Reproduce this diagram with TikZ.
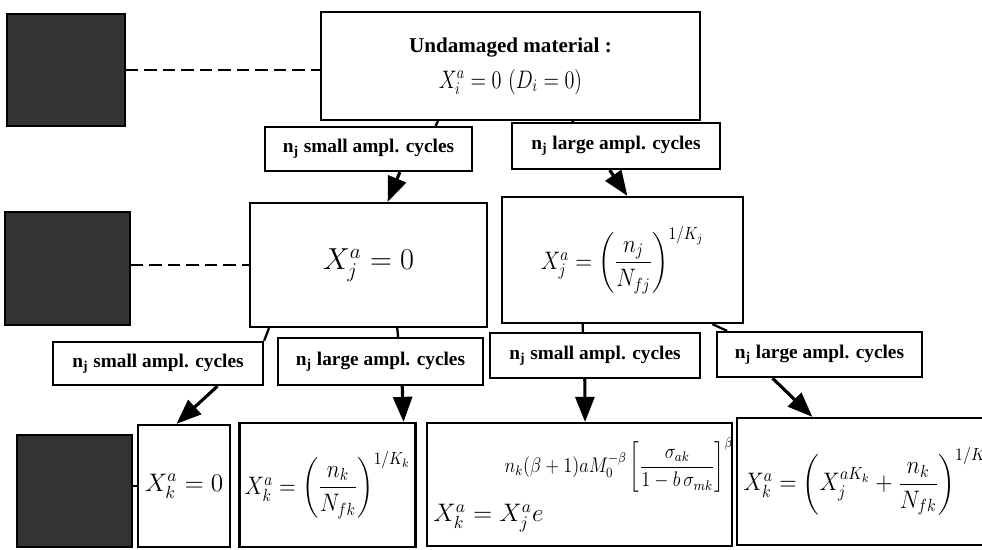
\documentclass[tikz,border=0pt]{standalone}
\usepackage{amsmath}
\usepackage{graphicx}
\usepackage{fontspec}
\setmainfont{Liberation Serif}
\usetikzlibrary{arrows.meta,calc}
\newcommand{\narrow}[2][0.87]{\scalebox{#1}[1]{#2}}

\begin{document}
\begin{tikzpicture}[x=0.02cm, y=-0.02cm, >={Triangle[length=0.5cm,width=0.38cm]},
    box/.style={draw, line width=1.3pt, inner sep=3pt},
    formula/.style={box, font=\Large},
    cyclebox/.style={box, font=\bfseries\fontsize{11}{13}\selectfont},
    greybox/.style={draw, line width=1pt, fill=black!80},
    link/.style={line width=1.3pt},
    arr/.style={line width=1.8pt, ->},
    dashlink/.style={line width=1.6pt, dash pattern=on 0.25cm off 0.12cm}]
    \clip (0,0) rectangle (982,549);

    % Grey boxes
    \node[greybox, minimum width=2.36cm, minimum height=2.24cm] (g1) at (66,70) {};
    \node[greybox, minimum width=2.5cm, minimum height=2.26cm] (g2) at (67.5,268.5) {};
    \node[greybox, minimum width=2.3cm, minimum height=2.24cm] (g3) at (74.5,491) {};

    % Undamaged state
    \node[box, minimum width=7.58cm, minimum height=2.16cm, align=center] (top) at (510.5,66)
        {{\bfseries\fontsize{12}{14}\selectfont Undamaged material :}\\[6pt]
         {\Large\narrow[0.8]{$X_i^a = 0\,\left(D_i = 0\right)$}}};

    % First block
    \node[cyclebox, minimum width=4.14cm, minimum height=0.88cm] (c1) at (368.5,149) {n\textsubscript{j} small ampl. cycles};
    \node[cyclebox, minimum width=4.16cm, minimum height=0.92cm] (c2) at (616,146) {n\textsubscript{j} large ampl. cycles};
    \node[formula, minimum width=4.74cm, minimum height=2.48cm, font=\LARGE] (xj1) at (368.5,265) {$X_j^a = 0$};
    \node[formula, minimum width=4.82cm, minimum height=2.52cm] (xj2) at (622.5,260)
        {\narrow{$X_j^a = \left(\dfrac{n_j}{N_{fj}}\right)^{1/K_j}$}};

    % Second block
    \node[cyclebox, minimum width=4.2cm, minimum height=0.86cm] (c3) at (158,363.5) {n\textsubscript{j} small ampl. cycles};
    \node[cyclebox, minimum width=4.1cm, minimum height=0.94cm] (c4) at (380.5,361.5) {n\textsubscript{j} large ampl. cycles};
    \node[cyclebox, minimum width=4.2cm, minimum height=0.9cm] (c5) at (595,355.5) {n\textsubscript{j} small ampl. cycles};
    \node[cyclebox, minimum width=4.1cm, minimum height=0.9cm] (c6) at (819.5,354.5) {n\textsubscript{j} large ampl. cycles};
    \node[formula, minimum width=1.84cm, minimum height=2.44cm] (k1) at (184,486) {$X_k^a = 0$};
    \node[formula, minimum width=3.5cm, minimum height=2.48cm] (k2) at (327.5,485)
        {\narrow{$X_k^a = \left(\dfrac{n_k}{N_{fk}}\right)^{1/K_k}$}};
    \node[formula, minimum width=6.1cm, minimum height=2.46cm, text width=5.85cm, align=left] (k3) at (579.5,484.5)
        {\mbox{$X_k^a = X_j^a e^{\kern-0.78cm\mbox{\large\narrow{\raisebox{0.8cm}{$\displaystyle n_k(\beta+1)aM_0^{-\beta}\left[\frac{\sigma_{ak}}{1-b\,\sigma_{mk}}\right]^{\beta}$}}}}$}};
    \node[formula, minimum width=5.46cm, minimum height=2.54cm, text width=5.2cm, align=left] (k4) at (873.5,481.5)
        {\narrow[0.9]{$X_k^a = \left(X_j^{aK_k} + \dfrac{n_k}{N_{fk}}\right)^{1/K_k}$}};

    % Links
    \draw[dashlink] (g1.east) -- (g1.east -| top.west);
    \draw[dashlink] (xj1.west -| g2.east) -- (xj1.west);
    \draw[link] (k1.west -| g3.east) -- (k1.west);
    \draw[link] ($(top.south west)!0.31!(top.south east)$) -- ($(c1.north west)!0.82!(c1.north east)$);
    \draw[link] ($(top.south west)!0.66!(top.south east)$) -- ($(c2.north west)!0.3!(c2.north east)$);
    \draw[arr] ($(c1.south west)!0.65!(c1.south east)$) -- ($(xj1.north west)!0.58!(xj1.north east)$);
    \draw[arr] ($(c2.south west)!0.47!(c2.south east)$) -- ($(xj2.north west)!0.52!(xj2.north east)$);
    \draw[link] ($(xj1.south west)!0.084!(xj1.south east)$) -- (c3.north east);
    \draw[link] ($(xj1.south west)!0.62!(xj1.south east)$) -- ($(c4.north west)!0.585!(c4.north east)$);
    \draw[link] ($(xj2.south west)!0.336!(xj2.south east)$) -- ($(c5.north west)!0.443!(c5.north east)$);
    \draw[link] ($(xj2.south west)!0.87!(xj2.south east)$) -- ($(c6.north west)!0.054!(c6.north east)$);
    \draw[arr] ($(c3.south west)!0.78!(c3.south east)$) -- ($(k1.north west)!0.42!(k1.north east)$);
    \draw[arr] ($(c4.south west)!0.605!(c4.south east)$) -- ($(k2.north west)!0.926!(k2.north east)$);
    \draw[arr] ($(c5.south west)!0.452!(c5.south east)$) -- ($(k3.north west)!0.518!(k3.north east)$);
    \draw[arr] ($(c6.south west)!0.273!(c6.south east)$) -- ($(k4.north west)!0.278!(k4.north east)$);
\end{tikzpicture}
\end{document}
